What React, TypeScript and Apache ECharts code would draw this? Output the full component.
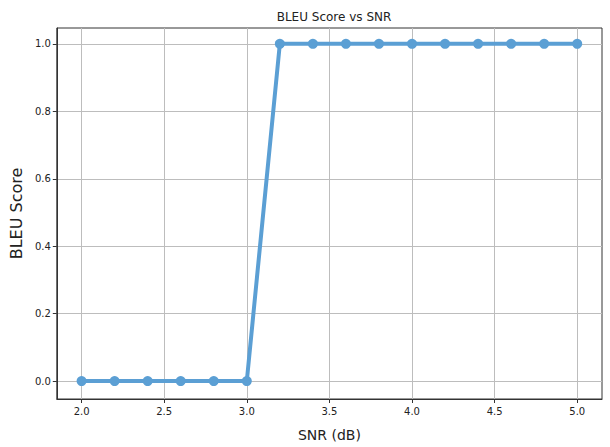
import React, { useEffect, useRef } from "react";
import * as echarts from "echarts";

const snr = [2.0, 2.2, 2.4, 2.6, 2.8, 3.0, 3.2, 3.4, 3.6, 3.8, 4.0, 4.2, 4.4, 4.6, 4.8, 5.0];
const bleu = [0, 0, 0, 0, 0, 0, 1, 1, 1, 1, 1, 1, 1, 1, 1, 1];
const xTicks = [2.0, 2.5, 3.0, 3.5, 4.0, 4.5, 5.0];
const yTicks = [0.0, 0.2, 0.4, 0.6, 0.8, 1.0];

export default function App() {
  const ref = useRef<HTMLDivElement>(null);
  useEffect(() => {
    if (!ref.current) return;
    const chart = echarts.init(ref.current, null, { renderer: "svg" });
    const font = "DejaVu Sans";
    chart.setOption({
      animation: false,
      backgroundColor: "#ffffff",
      title: {
        text: "BLEU Score vs SNR",
        left: 329,
        textAlign: "center",
        top: 6,
        textStyle: { fontFamily: font, fontSize: 12, fontWeight: "normal", color: "#222" },
      },
      grid: {
        left: 56,
        top: 28,
        width: 546,
        height: 372,
        show: true,
        borderColor: "#333",
        borderWidth: 1,
        backgroundColor: "transparent",
      },
      xAxis: {
        type: "value",
        min: 1.85,
        max: 5.15,
        name: "SNR (dB)",
        nameLocation: "middle",
        nameGap: 29,
        nameTextStyle: { fontFamily: font, fontSize: 14, color: "#222" },
        axisLine: { show: true, onZero: false, lineStyle: { color: "#333" } },
        axisTick: { show: true, customValues: xTicks, length: 4, lineStyle: { color: "#333" } },
        axisLabel: {
          customValues: xTicks,
          formatter: (v: number) => v.toFixed(1),
          fontFamily: font,
          fontSize: 10,
          color: "#222",
          margin: 7,
        },
        splitLine: { show: true, lineStyle: { color: "#bdbdbd", width: 1 } },
      },
      yAxis: {
        type: "value",
        min: -0.053,
        max: 1.047,
        name: "BLEU Score",
        nameLocation: "middle",
        nameGap: 22,
        nameTextStyle: { fontFamily: font, fontSize: 16, color: "#222" },
        axisLine: { show: true, onZero: false, lineStyle: { color: "#333" } },
        axisTick: { show: true, customValues: yTicks, length: 4, lineStyle: { color: "#333" } },
        axisLabel: {
          customValues: yTicks,
          formatter: (v: number) => v.toFixed(1),
          fontFamily: font,
          fontSize: 10,
          color: "#222",
          margin: 6,
        },
        splitLine: { show: true, lineStyle: { color: "#bdbdbd", width: 1 } },
      },
      series: [
        {
          type: "line",
          data: snr.map((x, i) => [x, bleu[i]]),
          symbol: "circle",
          symbolSize: 10,
          showSymbol: true,
          lineStyle: { color: "#5b9fd4", width: 4 },
          itemStyle: { color: "#5b9fd4", borderWidth: 0 },
        },
      ],
    });
    return () => chart.dispose();
  }, []);
  return (
    <div
      ref={ref}
      style={{ position: "fixed", left: 0, top: 0, width: 610, height: 447 }}
    />
  );
}
